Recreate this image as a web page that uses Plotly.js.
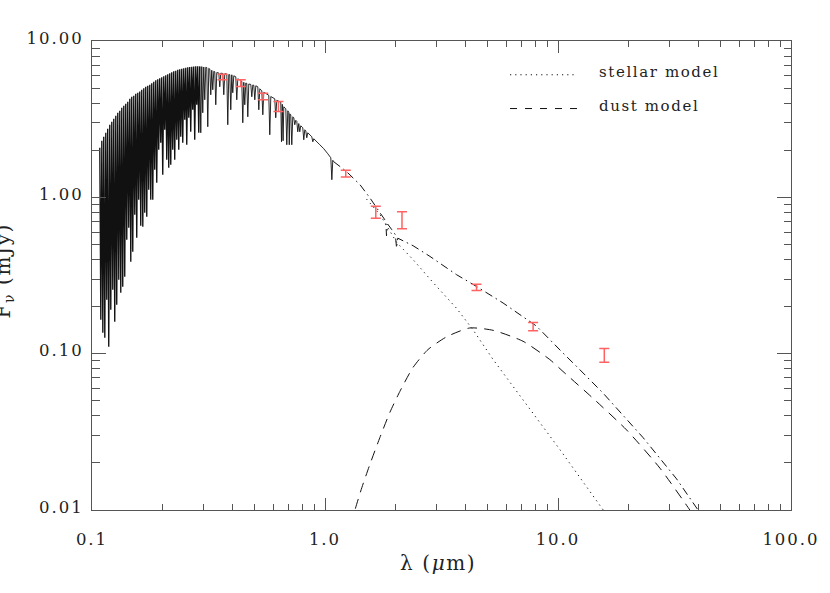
<!DOCTYPE html>
<html>
<head>
<meta charset="utf-8">
<script src="https://cdn.plot.ly/plotly-3.0.1.min.js"></script>
<style>
html,body{margin:0;padding:0;background:#fff;}
#chart{width:830px;height:593px;}
.xtick text,.ytick text{letter-spacing:2px;}
.annotation-text{letter-spacing:1.6px;}
</style>
</head>
<body>
<div id="chart"></div>
<script>
// ---- model spectrum, dense UV absorption-line forest (microns / mJy) ----
const specWlUV = [
0.1080,0.1091,0.1102,0.1113,0.1123,0.1135,0.1146,0.1157,0.1168,0.1180,
0.1192,0.1204,0.1216,0.1228,0.1240,0.1252,0.1265,0.1277,0.1290,0.1303,
0.1316,0.1329,0.1342,0.1355,0.1369,0.1382,0.1396,0.1410,0.1424,0.1438,
0.1453,0.1467,0.1481,0.1496,0.1511,0.1526,0.1541,0.1556,0.1572,0.1587,
0.1603,0.1619,0.1635,0.1652,0.1668,0.1684,0.1701,0.1718,0.1735,0.1752,
0.1770,0.1787,0.1805,0.1823,0.1841,0.1859,0.1878,0.1896,0.1915,0.1934,
0.1953,0.1973,0.1992,0.2012,0.2032,0.2052,0.2073,0.2093,0.2114,0.2135,
0.2156,0.2178,0.2199,0.2221,0.2243,0.2265,0.2288,0.2311,0.2334,0.2357,
0.2380,0.2404,0.2428,0.2452,0.2476,0.2501,0.2526,0.2551,0.2576,0.2602,
0.2627,0.2653,0.2680,0.2706,0.2733,0.2760,0.2788,0.2815,0.2843,0.2872,
0.2900];
const specFUV = [
2.075,0.1650,2.301,0.1362,2.441,0.1265,2.588,0.2214,2.745,0.1109,
2.912,0.1911,3.044,0.2566,3.181,0.1602,3.325,0.2057,3.474,0.2972,
3.578,0.2455,3.740,0.2682,3.852,0.3107,3.967,0.5357,4.087,0.6391,
4.270,0.3875,4.398,0.4490,4.463,0.7738,4.597,0.5517,4.666,0.9654,
4.756,0.6583,4.875,0.6486,4.984,0.7968,5.095,0.7516,5.171,1.118,
5.248,0.9654,5.365,0.9654,5.485,1.502,5.607,1.240,5.690,2.015,
5.775,2.234,5.861,1.394,5.948,2.705,6.036,1.740,6.126,1.546,
6.217,1.616,6.309,2.015,6.403,1.740,6.450,2.335,6.546,2.015,
6.594,2.441,6.643,2.234,6.691,3.134,6.741,2.169,6.791,3.228,
6.811,2.627,6.840,3.632,6.861,2.335,6.891,3.909,6.891,2.588,
6.871];

// ---- model spectrum, optical / near-IR part ----
const specWlVis = [
0.2900,0.2930,0.2959,0.2988,0.3018,0.3048,0.3078,0.3109,0.3140,0.3171,
0.3203,0.3234,0.3266,0.3299,0.3332,0.3365,0.3398,0.3432,0.3501,0.3535,
0.3570,0.3642,0.3678,0.3715,0.3789,0.3826,0.3864,0.3903,0.3941,0.3981,
0.4020,0.4060,0.4141,0.4182,0.4224,0.4394,0.4438,0.4482,0.4526,0.4571,
0.4617,0.4663,0.4709,0.4803,0.4851,0.4899,0.4948,0.4997,0.5047,0.5148,
0.5199,0.5250,0.5355,0.5409,0.5462,0.5738,0.5795,0.5853,0.6086,0.6147,
0.6208,0.6460,0.6505,0.6557,0.6609,0.6655,0.6788,0.6855,0.6923,0.6992,
0.7026,0.7061,0.7131,0.7202,0.7273,0.7345,0.7418,0.7492,0.7567,0.7641,
0.7717,0.7794,0.7871,0.8028,0.8108,0.8188,0.8270,0.8352,0.8435,0.8776,
0.8864,0.8952,0.9499,0.9882,1.028,1.059,1.070,1.080,1.091];
const specFVis = [
6.871,2.588,6.861,3.474,6.820,4.207,6.791,6.761,2.828,6.691,
6.613,4.529,6.497,4.875,6.403,6.356,3.909,6.281,6.244,5.095,
6.226,6.198,4.529,6.180,6.152,2.912,6.107,6.080,3.632,6.080,
4.666,5.991,5.903,4.207,5.732,5.525,2.999,5.444,3.909,5.381,
5.357,3.276,5.311,5.272,4.398,5.233,5.210,4.207,5.171,5.095,
3.632,4.947,4.804,3.374,4.699,4.496,2.513,4.411,4.270,3.228,
4.177,4.056,2.267,3.938,2.301,3.796,3.686,2.169,3.578,3.500,
2.169,3.424,3.374,2.169,3.276,3.228,2.912,3.112,3.066,2.627,
2.964,2.627,2.870,2.786,2.334,2.705,2.665,2.404,2.588,2.441,
2.267,2.370,2.169,2.045,1.900,1.791,1.296,1.726,1.689];

// ---- total model (stellar + dust) beyond ~1.1 micron ----
const totWl = [1.091,1.235,1.413,1.560,1.722,1.824,1.836,1.860,1.935,2.004,2.028,2.053,
               2.39,2.82,3.67,4.47,5.81,8.09,10.5,12.2,15.6,23.2,32.3,39.9,42.0];
const totF  = [1.689,1.465,1.205,0.990,0.797,0.704,0.568,0.673,0.621,0.577,0.474,0.548,
               0.49,0.419,0.32,0.269,0.211,0.150,0.101,0.081,0.056,0.029,0.0158,0.0100,0.0090];

// ---- stellar model (continuum) ----
const starWl = [1.507,1.722,2.03,2.39,2.91,3.67,4.32,5.27,10.2,15.6,17.0];
const starF  = [0.975,0.775,0.515,0.399,0.285,0.195,0.142,0.0916,0.0243,0.0100,0.0084];

// ---- dust model ----
const dustWl = [1.30,1.345,1.439,1.557,1.719,1.897,2.094,2.382,2.762,3.332,4.183,5.27,7.08,9.23,10.5,14.1,19.7,27.4,36.8,40.0];
const dustF  = [0.0080,0.0100,0.0139,0.0195,0.0290,0.0420,0.0572,0.0813,0.1060,0.1284,0.1460,0.141,0.120,0.0916,0.077,0.052,0.0325,0.0185,0.0100,0.0083];

// ---- photometry ----
const photWl  = [0.363,0.435,0.543,0.631,1.228,1.652,2.14,4.47,7.82,15.8];
const photF   = [5.89,5.38,4.42,3.82,1.42,0.806,0.72,0.266,0.149,0.098];
const photErr = [0.245,0.265,0.215,0.28,0.07,0.07,0.09,0.0125,0.009,0.010];

// ---- axis ticks ----
const xTickVals = [0.1,1,10,100];
const xTickText = ['0.1','1.0','10.0','100.0'];
const yTickVals = [0.01,0.1,1,10];
const yTickText = ['0.01','0.10','1.00','10.00'];
const minorMult = [2,3,4,5,6,7,8,9];

const legendNames = ['stellar model','dust model'];

const xMinor = [], yMinor = [];
[0.1,1,10].forEach(d => minorMult.forEach(m => xMinor.push(+(d*m).toPrecision(3))));
[0.01,0.1,1].forEach(d => minorMult.forEach(m => yMinor.push(+(d*m).toPrecision(3))));

const serif = 'DejaVu Serif, Liberation Serif, serif';
const black = '#111';

const traces = [
  {x: specWlUV, y: specFUV, type:'scatter', mode:'lines', line:{color:black, width:1.35, simplify:false}, hoverinfo:'skip'},
  {x: specWlVis, y: specFVis, type:'scatter', mode:'lines', line:{color:black, width:0.9, simplify:false}, hoverinfo:'skip'},
  {x: totWl, y: totF, type:'scatter', mode:'lines', line:{color:black, width:1, dash:'8px,4px,1.5px,4px', simplify:false}, hoverinfo:'skip'},
  {x: starWl, y: starF, type:'scatter', mode:'lines', line:{color:black, width:1, dash:'1.2px,4px'}, hoverinfo:'skip'},
  {x: dustWl, y: dustF, type:'scatter', mode:'lines', line:{color:black, width:1, dash:'10px,7px', shape:'spline', smoothing:0.6}, hoverinfo:'skip'},
  {x: photWl, y: photF, type:'scatter', mode:'markers', marker:{size:1, color:'rgba(0,0,0,0)'},
   error_y:{type:'data', array: photErr, visible:true, color:'#ff6262', thickness:1.5, width:5}, hoverinfo:'skip'}
];

const axisCommon = {
  type:'log', showgrid:false, zeroline:false, showline:true, linecolor:'#555', linewidth:1,
  mirror:'ticks', ticks:'inside', tickcolor:'#555', tickwidth:1,
  tickfont:{family:serif, size:16.5, color:'#222'}, tickmode:'array'
};

const legendDash = ['1.2px,4px','7px,8px'];
const legendY = [0.934, 0.862];
const shapes = legendNames.map((n,i) => ({
  type:'line', xref:'paper', yref:'paper', x0:0.598, x1:0.694, y0:legendY[i]-0.006, y1:legendY[i]-0.006,
  line:{color:black, width:1, dash:legendDash[i]}
}));
const annotations = legendNames.map((n,i) => ({
  text:n, xref:'paper', yref:'paper', x:0.722, y:legendY[i], xanchor:'left', yanchor:'middle',
  showarrow:false, font:{family:serif, size:15, color:'#222'}
}));
annotations.push({text:'λ (<i>μ</i>m)', xref:'paper', yref:'paper', x:0.5, y:0, yshift:-53, xshift:-4,
  xanchor:'center', yanchor:'middle', showarrow:false, font:{family:serif, size:20, color:'#222'}});
annotations.push({text:'F<sub>ν</sub> (mJy)', xref:'paper', yref:'paper', x:0, xshift:-89, y:0.5, yshift:4,
  xanchor:'center', yanchor:'middle', textangle:-90, showarrow:false, font:{family:serif, size:20, color:'#222'}});

const layout = {
  width:830, height:593, paper_bgcolor:'#fff', plot_bgcolor:'#fff', showlegend:false,
  margin:{l:92, r:39, t:41, b:83},
  xaxis: Object.assign({}, axisCommon, {range:[-1,2], tickvals:xTickVals, ticktext:xTickText, ticklen:12,
    ticklabelstandoff:14,
    minor:{tickvals:xMinor, ticks:'inside', ticklen:6, tickcolor:'#555', tickwidth:1}}),
  yaxis: Object.assign({}, axisCommon, {range:[-2,1], tickvals:yTickVals, ticktext:yTickText, ticklen:14,
    ticklabelstandoff:4, ticklabelshift:-3,
    minor:{tickvals:yMinor, ticks:'inside', ticklen:7.5, tickcolor:'#555', tickwidth:1}}),
  shapes: shapes,
  annotations: annotations
};

Plotly.newPlot('chart', traces, layout, {staticPlot:true, displayModeBar:false});
</script>
</body>
</html>
